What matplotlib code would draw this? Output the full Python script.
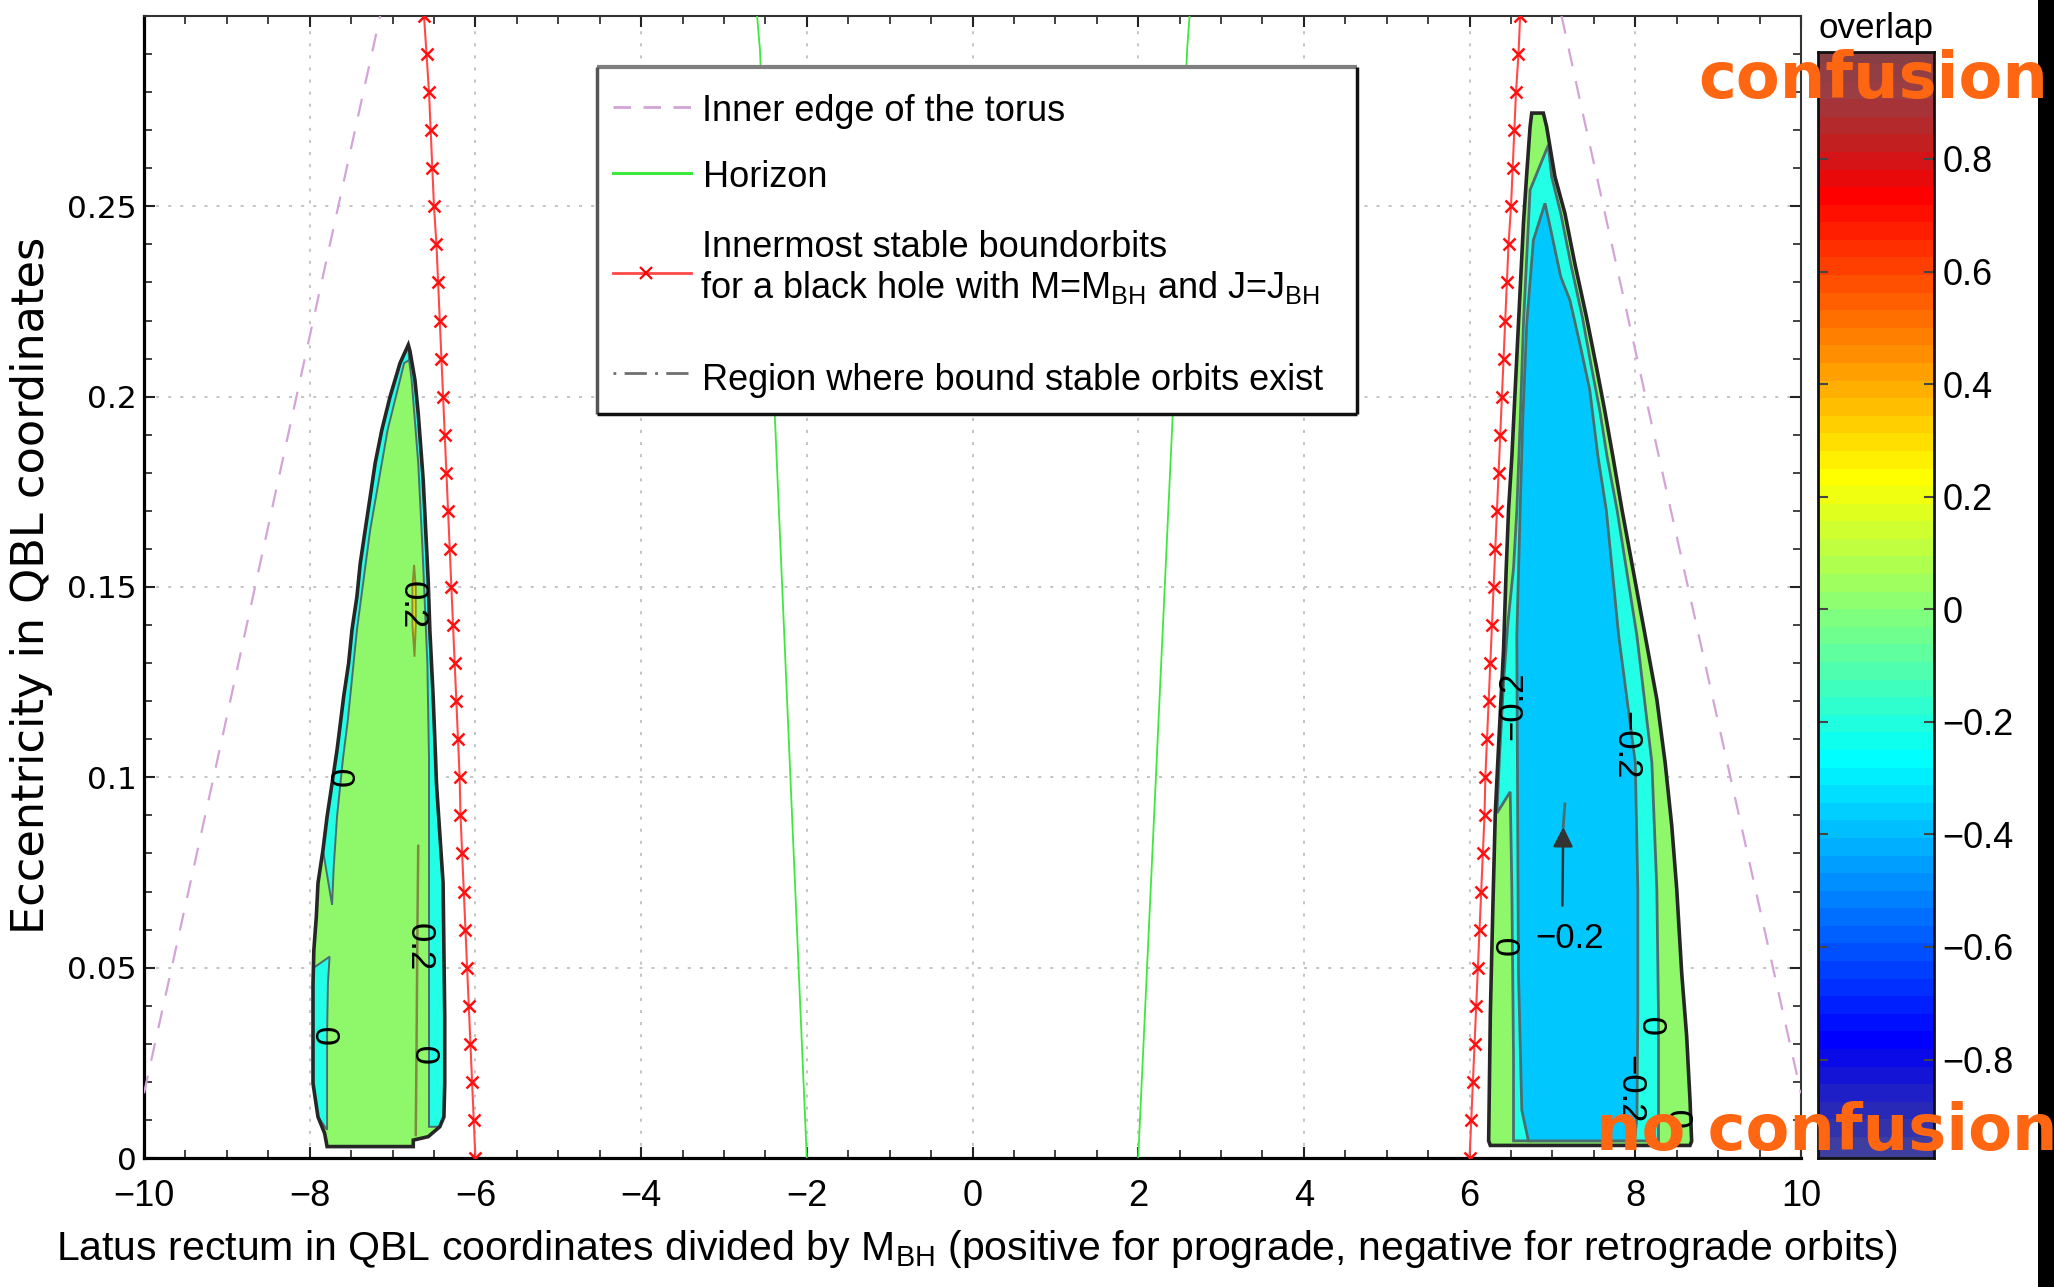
import numpy as np
import matplotlib
matplotlib.use("Agg")
import matplotlib.pyplot as plt
from matplotlib import font_manager
from matplotlib.colors import ListedColormap
from matplotlib.patches import Rectangle

# ------------------------------------------------------------------ data
# inner edge of the torus (dashed)
torus_retro_x = [-10.0, -9.16, -8.14, -7.15]
torus_retro_e = [0.017, 0.100, 0.202, 0.300]
torus_pro_x = [7.11, 7.33, 7.92, 8.40, 10.0]
torus_pro_e = [0.300, 0.278, 0.220, 0.173, 0.017]

# horizon (green)
horizon_retro_x = [-2.00, -2.38, -2.565, -2.60]
horizon_retro_e = [0.000, 0.192, 0.291, 0.300]
horizon_pro_x = [2.00, 2.41, 2.59, 2.62]
horizon_pro_e = [0.000, 0.192, 0.291, 0.300]

# innermost stable bound orbits (red, x markers)
isco_e = [0.00, 0.01, 0.02, 0.03, 0.04, 0.05, 0.06, 0.07, 0.08, 0.09, 0.10,
          0.11, 0.12, 0.13, 0.14, 0.15, 0.16, 0.17, 0.18, 0.19, 0.20,
          0.21, 0.22, 0.23, 0.24, 0.25, 0.26, 0.27, 0.28, 0.29, 0.30]
isco_retro_x = [-6.00, -6.02, -6.04, -6.06, -6.08, -6.10, -6.12, -6.14, -6.16, -6.18, -6.19,
                -6.21, -6.23, -6.25, -6.27, -6.29, -6.31, -6.33, -6.35, -6.37, -6.39,
                -6.41, -6.43, -6.45, -6.47, -6.50, -6.52, -6.54, -6.56, -6.59, -6.62]
isco_pro_x = [6.00, 6.02, 6.04, 6.06, 6.08, 6.10, 6.12, 6.14, 6.16, 6.18, 6.19,
              6.21, 6.23, 6.25, 6.27, 6.29, 6.31, 6.33, 6.35, 6.37, 6.39,
              6.41, 6.43, 6.45, 6.47, 6.50, 6.52, 6.54, 6.56, 6.59, 6.61]

# retrograde region (left)
retro_outer_x = [-6.81, -6.79, -6.73, -6.69, -6.66, -6.63, -6.61, -6.59, -6.57, -6.55, -6.53, -6.51,
                 -6.48, -6.47, -6.43, -6.39, -6.38, -6.37, -6.37, -6.38, -6.43, -6.57, -6.75, -6.75,
                 -7.79, -7.82, -7.90, -7.96, -7.96, -7.96, -7.96, -7.95, -7.92, -7.90, -7.84, -7.79,
                 -7.73, -7.67, -7.64, -7.59, -7.53, -7.49, -7.43, -7.39, -7.33, -7.27, -7.21, -7.13,
                 -7.03, -6.91]
retro_outer_e = [0.2136, 0.2120, 0.2044, 0.1956, 0.1869, 0.1781, 0.1694, 0.1606, 0.1518, 0.1387, 0.1300,
                 0.1212, 0.1046, 0.0984, 0.0853, 0.0722, 0.0546, 0.0371, 0.0196, 0.0108, 0.0082, 0.0056,
                 0.0047, 0.0030, 0.0030, 0.0065, 0.0108, 0.0196, 0.0284, 0.0371, 0.0459, 0.0546, 0.0634,
                 0.0722, 0.0809, 0.0897, 0.0984, 0.1072, 0.1124, 0.1212, 0.1300, 0.1387, 0.1475, 0.1562,
                 0.1650, 0.1737, 0.1825, 0.1912, 0.2000, 0.2088]
retro_cyan_left_x = [-6.81, -6.91, -7.03, -7.13, -7.21, -7.27, -7.33, -7.39, -7.43, -7.49, -7.53, -7.59,
                     -7.64, -7.67, -7.73, -7.79, -7.84, -7.73, -7.71, -7.67, -7.60, -7.54, -7.43, -7.27,
                     -7.06, -6.86, -6.80]
retro_cyan_left_e = [0.2136, 0.2088, 0.2000, 0.1912, 0.1825, 0.1737, 0.1650, 0.1562, 0.1475, 0.1387,
                     0.1300, 0.1212, 0.1124, 0.1072, 0.0984, 0.0897, 0.0809, 0.0665, 0.0765, 0.0897,
                     0.1046, 0.1150, 0.1387, 0.1650, 0.1912, 0.2088, 0.2096]
retro_cyan_right_x = [-6.79, -6.73, -6.69, -6.66, -6.63, -6.61, -6.59, -6.57, -6.55, -6.53, -6.51, -6.48,
                      -6.47, -6.43, -6.39, -6.38, -6.37, -6.37, -6.38, -6.43, -6.56, -6.56, -6.56, -6.58,
                      -6.64, -6.69, -6.77, -6.80]
retro_cyan_right_e = [0.2120, 0.2044, 0.1956, 0.1869, 0.1781, 0.1694, 0.1606, 0.1518, 0.1387, 0.1300,
                      0.1212, 0.1046, 0.0984, 0.0853, 0.0722, 0.0546, 0.0371, 0.0196, 0.0108, 0.0082,
                      0.0082, 0.0500, 0.1046, 0.1300, 0.1606, 0.1825, 0.2044, 0.2096]
retro_cyan_lower_x = [-7.76, -7.95, -7.96, -7.96, -7.96, -7.90, -7.79, -7.79, -7.79, -7.78]
retro_cyan_lower_e = [0.0529, 0.0500, 0.0459, 0.0284, 0.0196, 0.0108, 0.0074, 0.0196, 0.0328, 0.0460]
retro_yellow_x = [-6.74, -6.72, -6.72, -6.735, -6.76, -6.76]
retro_yellow_e = [0.1558, 0.1500, 0.1400, 0.1317, 0.1400, 0.1500]
retro_inner_line_x = [-6.69, -6.70, -6.71, -6.72]
retro_inner_line_e = [0.082, 0.060, 0.030, 0.006]

# prograde region (right)
pro_outer_x = [6.75, 6.89, 6.93, 7.03, 7.15, 7.27, 7.41, 7.53, 7.63, 7.73, 7.84, 7.98, 8.12, 8.26,
               8.36, 8.44, 8.50, 8.56, 8.62, 8.66, 8.68, 8.66, 6.25, 6.23, 6.25, 6.28, 6.31, 6.35,
               6.41, 6.44, 6.47, 6.51, 6.53, 6.57, 6.61, 6.65, 6.69, 6.73]
pro_outer_e = [0.2745, 0.2745, 0.2709, 0.2578, 0.2482, 0.2350, 0.2210, 0.2079, 0.1965, 0.1842, 0.1702,
               0.1537, 0.1371, 0.1205, 0.1039, 0.0873, 0.0707, 0.0486, 0.0320, 0.0154, 0.0044, 0.0033,
               0.0033, 0.0045, 0.0376, 0.0652, 0.0906, 0.1083, 0.1337, 0.1537, 0.1702, 0.1842, 0.1930,
               0.2105, 0.2280, 0.2455, 0.2587, 0.2709]
pro_cyan_x = [6.95, 6.99, 7.10, 7.22, 7.36, 7.47, 7.57, 7.66, 7.78, 8.02, 8.20, 8.26, 8.28, 8.28,
              6.53, 6.53, 6.51, 6.49, 6.33, 6.36, 6.41, 6.46, 6.53, 6.57, 6.61, 6.65, 6.69, 6.73]
pro_cyan_e = [0.2661, 0.2578, 0.2482, 0.2350, 0.2210, 0.2079, 0.1965, 0.1842, 0.1702, 0.1371, 0.1039,
              0.0707, 0.0376, 0.0045, 0.0045, 0.0265, 0.0707, 0.0962, 0.0906, 0.1050, 0.1250, 0.1400,
              0.1550, 0.1702, 0.1930, 0.2193, 0.2368, 0.2543]
pro_blue_x = [6.91, 6.98, 7.10, 7.21, 7.33, 7.45, 7.55, 7.65, 7.80, 7.90, 8.00, 8.03, 8.03, 8.02,
              7.99, 6.71, 6.63, 6.59, 6.58, 6.57, 6.61, 6.64, 6.69, 6.77]
pro_blue_e = [0.2508, 0.2438, 0.2315, 0.2254, 0.2140, 0.2018, 0.1842, 0.1702, 0.1371, 0.1205, 0.1039,
              0.0707, 0.0376, 0.0107, 0.0045, 0.0045, 0.0126, 0.0486, 0.0906, 0.1371, 0.1702, 0.1930,
              0.2193, 0.2411]

# contour labels
clabel_text = ["0.2", "0", "0.2", "0", "0",
               "\u22120.2", "\u22120.2", "0", "0", "\u22120.2", "0"]
clabel_x = [-6.76, -7.57, -6.68, -7.75, -6.55, 6.52, 7.89, 6.49, 8.26, 7.93, 8.58]
clabel_e = [0.1453, 0.1002, 0.0555, 0.0326, 0.0275, 0.1188, 0.1083, 0.0558, 0.0351, 0.0180, 0.0106]
clabel_rot = [-90, 90, -90, 90, 90, 90, -90, 90, 90, -90, 90]
arrow_label = "\u22120.2"
arrow_label_xy = (7.21, 0.0577)
arrow_tail_xy = (7.12, 0.0663)
arrow_head_xy = (7.13, 0.0870)

# ticks
x_ticks = [-10, -8, -6, -4, -2, 0, 2, 4, 6, 8, 10]
x_tick_labels = ["\u221210", "\u22128", "\u22126", "\u22124", "\u22122", "0", "2", "4", "6", "8", "10"]
y_ticks = [0, 0.05, 0.10, 0.15, 0.20, 0.25]
y_tick_labels = ["0", "0.05", "0.1", "0.15", "0.2", "0.25"]
cbar_ticks = [-0.8, -0.6, -0.4, -0.2, 0.0, 0.2, 0.4, 0.6, 0.8]
cbar_tick_labels = ["\u22120.8", "\u22120.6", "\u22120.4", "\u22120.2", "0", "0.2", "0.4", "0.6", "0.8"]

legend_labels = ["Inner edge of the torus", "Horizon",
                 "Innermost stable boundorbits",
                 r"for a black hole with M=M$_{\mathrm{BH}}$ and J=J$_{\mathrm{BH}}$",
                 "Region where bound stable orbits exist"]
x_label = r"Latus rectum in QBL coordinates divided by M$_{\mathrm{BH}}$ (positive for prograde, negative for retrograde orbits)"
y_label = "Eccentricity in QBL coordinates"

# ------------------------------------------------------------------ style
names = {f.name for f in font_manager.fontManager.ttflist}
NARROW = "Liberation Sans Narrow" if "Liberation Sans Narrow" in names else "Liberation Sans"
plt.rcParams["mathtext.fontset"] = "custom"
plt.rcParams["mathtext.rm"] = NARROW
plt.rcParams["mathtext.it"] = NARROW + ":italic"
plt.rcParams["mathtext.bf"] = NARROW + ":bold"
plt.rcParams["lines.scale_dashes"] = False

GREEN = "#8ff86a"
CYAN = "#22ffe6"
BLUE = "#00c8ff"
YELLOW = "#f0f010"
CONTOUR = "#4a6e6e"
OUTLINE = "#262626"
PLUM = "#d4a4d8"
HGREEN = "#3ee83e"
RED = "#ff4a4a"
ORANGE = "#ff6611"


def matlab_jet(m=64):
    n = int(np.ceil(m / 4))
    u = np.concatenate([np.arange(1, n + 1) / n, np.ones(n - 1), np.arange(n, 0, -1) / n])
    g = int(np.ceil(n / 2)) - (1 if m % 4 == 1 else 0) + np.arange(1, len(u) + 1)
    r = g + n
    b = g - n
    J = np.zeros((m, 3))
    for col, idxs in ((0, r), (1, g), (2, b)):
        for i, val in zip(idxs, u):
            if 1 <= i <= m:
                J[i - 1, col] = val
    w = np.clip(1.1 * (1 - J.max(axis=1)), 0, 0.42)[:, None]
    J = J * (1 - w) + np.array([0.58, 0.59, 0.64]) * w
    return J


W, H = 2054, 1287
fig = plt.figure(figsize=(W / 100, H / 100), dpi=100)
renderer = fig.canvas.get_renderer()


def fig_rect(l, t, r, b):
    return [l / W, 1 - b / H, (r - l) / W, (b - t) / H]


def fit(t, target, vertical=False):
    bb = t.get_window_extent(renderer)
    cur = bb.height if vertical else bb.width
    t.set_fontsize(t.get_fontsize() * target / cur)


# ------------------------------------------------------------------ main axes
ax = fig.add_axes(fig_rect(144, 16, 1801, 1158))
ax.set_xlim(-10, 10)
ax.set_ylim(0, 0.3)
ax.set_axisbelow(True)
ax.grid(True, which="major", linestyle=(0, (2.2, 6.5)), color="#c4c4c4", lw=1.4)

# fills
ax.fill(retro_outer_x, retro_outer_e, facecolor=GREEN, edgecolor="none", zorder=2)
ax.fill(retro_cyan_left_x, retro_cyan_left_e, facecolor=CYAN, edgecolor=CONTOUR, lw=1.4, zorder=2.1)
ax.fill(retro_cyan_right_x, retro_cyan_right_e, facecolor=CYAN, edgecolor=CONTOUR, lw=1.4, zorder=2.1)
ax.fill(retro_cyan_lower_x, retro_cyan_lower_e, facecolor=CYAN, edgecolor=CONTOUR, lw=1.4, zorder=2.1)
ax.fill(retro_yellow_x, retro_yellow_e, facecolor=YELLOW, edgecolor="#8a8a30", lw=1.4, zorder=2.2)
ax.plot(retro_inner_line_x, retro_inner_line_e, color="#7d8a40", lw=1.8, zorder=2.3)

ax.fill(pro_outer_x, pro_outer_e, facecolor=GREEN, edgecolor="none", zorder=2)
ax.fill(pro_cyan_x, pro_cyan_e, facecolor=CYAN, edgecolor=CONTOUR, lw=2.0, zorder=2.1)
ax.fill(pro_blue_x, pro_blue_e, facecolor=BLUE, edgecolor=CONTOUR, lw=2.0, zorder=2.2)

ax.fill(retro_outer_x, retro_outer_e, facecolor="none", edgecolor=OUTLINE, lw=2.6, zorder=3)
ax.fill(pro_outer_x, pro_outer_e, facecolor="none", edgecolor=OUTLINE, lw=2.6, zorder=3)

# curves
dash_t = (0, (13, 11))
ax.plot(torus_retro_x, torus_retro_e, color=PLUM, lw=1.6, linestyle=dash_t, zorder=4)
ax.plot(torus_pro_x, torus_pro_e, color=PLUM, lw=1.6, linestyle=dash_t, zorder=4)
ax.plot(horizon_retro_x, horizon_retro_e, color=HGREEN, lw=1.3, zorder=4)
ax.plot(horizon_pro_x, horizon_pro_e, color=HGREEN, lw=1.3, zorder=4)
for xs in (isco_retro_x, isco_pro_x):
    ax.plot(xs, isco_e, color=RED, lw=1.5, marker="x", ms=9, mew=1.8, mec="#ff1010", zorder=4)

# contour labels
for s, x, e, r in zip(clabel_text, clabel_x, clabel_e, clabel_rot):
    ax.text(x, e, s, rotation=r, ha="center", va="center", fontsize=25,
            family="Liberation Sans", color="black", zorder=6)
ax.annotate("", xy=arrow_head_xy, xytext=arrow_tail_xy,
            arrowprops=dict(arrowstyle="-|>", color="#333333", lw=1.8, mutation_scale=30,
                            shrinkA=0, shrinkB=0), zorder=6)
ax.plot([arrow_head_xy[0], arrow_head_xy[0] + 0.02], [arrow_head_xy[1], arrow_head_xy[1] + 0.006],
        color=CONTOUR, lw=2, zorder=5)
ax.text(arrow_label_xy[0], arrow_label_xy[1], arrow_label, ha="center", va="center",
        fontsize=25, family="Liberation Sans", zorder=6)

# ticks
ax.set_xticks(x_ticks)
ax.set_xticklabels(x_tick_labels, fontfamily="Liberation Sans", fontsize=26)
ax.set_yticks(y_ticks)
ax.set_yticklabels(y_tick_labels, fontfamily="DejaVu Sans", fontsize=22.5)
ax.set_xticks(np.arange(-10, 10.01, 0.5), minor=True)
ax.set_yticks(np.arange(0, 0.3001, 0.01), minor=True)
ax.tick_params(which="both", direction="in", top=True, right=True, color="#222222")
ax.tick_params(which="major", length=8, width=1.5)
ax.tick_params(which="minor", length=6, width=1.2)
ax.tick_params(axis="x", which="major", pad=15)
ax.tick_params(axis="y", which="major", pad=5)
for side in ("left", "bottom"):
    ax.spines[side].set_linewidth(2.3)
    ax.spines[side].set_color("black")
for side in ("top", "right"):
    ax.spines[side].set_linewidth(1.5)
    ax.spines[side].set_color("#333333")

# ------------------------------------------------------------------ colorbar
cax = fig.add_axes(fig_rect(1818, 52, 1934, 1158))
J = matlab_jet(64)
cax.imshow(np.arange(64).reshape(-1, 1), cmap=ListedColormap(J), aspect="auto",
           extent=[0, 1, -1, 1], origin="lower", interpolation="nearest")
cax.set_xlim(0, 1)
cax.set_ylim(-0.975, 0.99)
cax.set_xticks([])
cax.set_yticks(cbar_ticks)
cax.set_yticklabels(cbar_tick_labels, fontfamily="Liberation Sans", fontsize=26)
cax.tick_params(axis="y", direction="in", left=True, right=True, labelleft=False,
                labelright=True, length=7, width=1.5, color="#444444", pad=6)
for sp in cax.spines.values():
    sp.set_linewidth(2)
    sp.set_color("#111111")

# ------------------------------------------------------------------ overlay (pixel coords)
ov = fig.add_axes([0, 0, 1, 1], zorder=10)
ov.set_xlim(0, W)
ov.set_ylim(H, 0)
ov.axis("off")

# legend box
lx0, ly0, lx1, ly1 = 596.5, 66.7, 1356.5, 414
ov.add_patch(Rectangle((lx0, ly0), lx1 - lx0, ly1 - ly0, facecolor="white", edgecolor="none", zorder=1))
ov.plot([lx0, lx1], [ly0, ly0], color="#7f7f7f", lw=3, solid_capstyle="butt", zorder=2)
ov.plot([lx0, lx0], [ly0, ly1], color="#555555", lw=2.5, solid_capstyle="butt", zorder=2)
ov.plot([lx0, lx1], [ly1, ly1], color="#111111", lw=2.5, solid_capstyle="butt", zorder=2)
ov.plot([lx1, lx1], [ly0, ly1], color="#111111", lw=2.5, solid_capstyle="butt", zorder=2)

sx0, sx1 = 612.5, 691
ov.plot([sx0, sx1], [107.3, 107.3], color=PLUM, lw=2, linestyle=(0, (12.6, 9)), zorder=3)
ov.plot([sx0, sx1], [173.3, 173.3], color=HGREEN, lw=2.2, zorder=3)
ov.plot([sx0, sx1], [272.7, 272.7], color=RED, lw=2, zorder=3)
ov.plot([(sx0 + sx1) / 2 - 6], [272.7], marker="x", ms=8, mew=1.6, color="#ff0000", zorder=3)
ov.plot([sx0, sx1], [373.3, 373.3], color="#707070", lw=2, linestyle=(0, (2, 6, 16, 6)), zorder=3)

leg_font = dict(family=NARROW, color="black", va="baseline", ha="left", zorder=4, fontsize=30)
t_ref = ov.text(702.5, 390, legend_labels[4], **leg_font)
fit(t_ref, 621)
fs_leg = t_ref.get_fontsize()
leg_font["fontsize"] = fs_leg
ov.text(702.5, 120.7, legend_labels[0], **leg_font)
ov.text(702.5, 186.7, legend_labels[1], **leg_font)
ov.text(702.5, 256.7, legend_labels[2], **leg_font)
ov.text(700, 298, legend_labels[3], **leg_font)

# axis labels
tx = ov.text(977, 1260, x_label, family=NARROW, ha="center", va="baseline", fontsize=34)
fit(tx, 1845)
ty = ov.text(32, 585, y_label, family="DejaVu Sans", rotation=90, ha="center", va="center", fontsize=30)
fit(ty, 697, vertical=True)
to = ov.text(1875.5, 38, "overlap", family=NARROW, ha="center", va="baseline", fontsize=28)
fit(to, 115)

# right-edge black strip and overlay words
ov.add_patch(Rectangle((2038, 0), 16, H, facecolor="black", edgecolor="none", zorder=5))
ov.text(1698, 98, "confusion", family="DejaVu Sans", fontweight="bold", fontsize=46,
        color=ORANGE, ha="left", va="baseline", zorder=8)
ov.text(1596, 1150, "no confusion", family="DejaVu Sans", fontweight="bold", fontsize=46,
        color=ORANGE, ha="left", va="baseline", zorder=8)

fig.savefig("out.png", dpi=100)
